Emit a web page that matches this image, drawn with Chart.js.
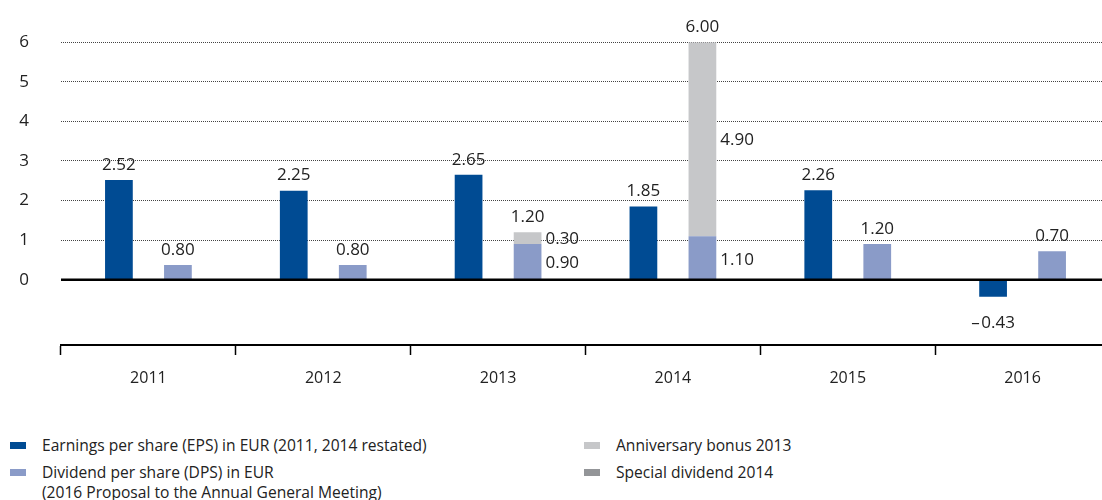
<!DOCTYPE html>
<html>
<head>
<meta charset="utf-8">
<script src="https://cdn.jsdelivr.net/npm/chart.js@4/dist/chart.umd.min.js"></script>
<style>
    html, body { margin: 0; padding: 0; background: #fff; overflow: hidden; }
    body { width: 1102px; height: 500px; position: relative; font-family: "Open Sans", sans-serif; color: #222; }
    #wrap { position: absolute; left: 0; top: 0; width: 1112px; height: 400px; }
    .key { position: absolute; font-size: 15.6px; line-height: 20px; white-space: nowrap; }
    .key span { position: absolute; width: 16px; height: 7px; }
</style>
</head>
<body>
<div id="wrap"><canvas id="eps-dps"></canvas></div>

<div class="key" style="left:42px; top:435px;"><span style="left:-32px; top:7px; background:#004b93;"></span>Earnings per share (EPS) in EUR (2011, 2014 restated)</div>
<div class="key" style="left:42px; top:462px;"><span style="left:-32px; top:7px; background:#8a9bc8;"></span>Dividend per share (DPS) in EUR<br>(2016 Proposal to the Annual General Meeting)</div>
<div class="key" style="left:616px; top:435px;"><span style="left:-32px; top:7px; background:#c6c7c9;"></span>Anniversary bonus 2013</div>
<div class="key" style="left:616px; top:462px;"><span style="left:-32px; top:7px; background:#939598;"></span>Special dividend 2014</div>

<script>
// Data
var years = ["2011", "2012", "2013", "2014", "2015", "2016"];
var eps = [2.52, 2.25, 2.65, 1.85, 2.26, -0.43];
var dps = [0.37, 0.37, 0.90, 1.10, 0.90, 0.72];
var bonus = [0, 0, 0.30, 4.90, 0, 0];

var epsLabels = ["2.52", "2.25", "2.65", "1.85", "2.26", "\u2013\u200a0.43"];
var totalLabels = ["0.80", "0.80", "1.20", "6.00", "1.20", "0.70"];
var dpsLabels = ["", "", "0.90", "1.10", "", ""];
var bonusLabels = ["", "", "0.30", "4.90", "", ""];

var yTicks = [0, 1, 2, 3, 4, 5, 6];

var FONT = "'Open Sans', sans-serif";

// Zero line + value labels
var valueLabels = {
    id: "valueLabels",
    afterDatasetsDraw: function (chart) {
        var ctx = chart.ctx;
        var y = chart.scales.y;
        var area = chart.chartArea;
        var y0 = y.getPixelForValue(0);

        ctx.save();
        ctx.strokeStyle = "#000";
        ctx.lineWidth = 2.5;
        ctx.beginPath();
        ctx.moveTo(area.left, y0);
        ctx.lineTo(area.right, y0);
        ctx.stroke();

        ctx.font = "17px " + FONT;
        ctx.fillStyle = "#222";
        ctx.textBaseline = "middle";

        var epsBars = chart.getDatasetMeta(0).data;
        var dpsBars = chart.getDatasetMeta(1).data;
        var bonusBars = chart.getDatasetMeta(2).data;

        ctx.textAlign = "center";
        epsBars.forEach(function (bar, i) {
            if (eps[i] >= 0) {
                ctx.fillText(epsLabels[i], bar.x, bar.y - 15);
            } else {
                ctx.fillText(epsLabels[i], bar.x, bar.y + 26);
            }
        });
        dpsBars.forEach(function (bar, i) {
            var top = y.getPixelForValue(dps[i] + bonus[i]);
            ctx.fillText(totalLabels[i], bar.x, top - 15);
        });

        ctx.textAlign = "left";
        dpsBars.forEach(function (bar, i) {
            if (dpsLabels[i]) {
                ctx.fillText(dpsLabels[i], bar.x + bar.width / 2 + 4, (bar.y + bar.base) / 2 + 2);
            }
        });
        bonusBars.forEach(function (bar, i) {
            if (bonusLabels[i]) {
                ctx.fillText(bonusLabels[i], bar.x + bar.width / 2 + 4, (bar.y + bar.base) / 2 + 1);
            }
        });
        ctx.restore();
    }
};

var ctx1 = document.getElementById("eps-dps").getContext("2d");
var myChart = new Chart(ctx1, {
    type: "bar",
    data: {
        labels: years,
        datasets: [{
            label: "EPS",
            data: eps,
            backgroundColor: "#004b93",
            stack: "eps"
        },
            {
                label: "DPS",
                data: dps,
                backgroundColor: "#8a9bc8",
                stack: "div"
            },
            {
                label: "Bonus",
                data: bonus,
                backgroundColor: "#c6c7c9",
                stack: "div"
            }
        ]
    },
    options: {
        responsive: true,
        maintainAspectRatio: false,
        animation: false,
        categoryPercentage: 0.675,
        barPercentage: 0.47,
        layout: {padding: {top: 39, left: 0, right: 2, bottom: 0}},
        plugins: {
            legend: {display: false},
            tooltip: {enabled: false}
        },
        scales: {
            x: {
                stacked: true,
                afterFit: function (scale) { scale.height = 55; },
                border: {display: true, color: "#000", width: 2},
                grid: {
                    offset: true,
                    drawOnChartArea: false,
                    drawTicks: true,
                    tickLength: 10,
                    tickColor: "#000",
                    tickWidth: 1.5
                },
                ticks: {
                    padding: 14,
                    color: "#222",
                    font: {family: FONT, size: 16}
                }
            },
            y: {
                stacked: true,
                min: -1.65,
                max: 6,
                afterFit: function (scale) { scale.width = 61; },
                afterBuildTicks: function (scale) {
                    scale.ticks = yTicks.map(function (v) { return {value: v}; });
                },
                border: {display: false, dash: [1, 1]},
                grid: {
                    drawTicks: false,
                    lineWidth: 1,
                    color: function (c) {
                        return c.tick && c.tick.value > 0 ? "#444" : "rgba(0,0,0,0)";
                    }
                },
                ticks: {
                    padding: 32,
                    color: "#222",
                    font: {family: FONT, size: 17}
                }
            }
        }
    },
    plugins: [valueLabels]
});
</script>
</body>
</html>
